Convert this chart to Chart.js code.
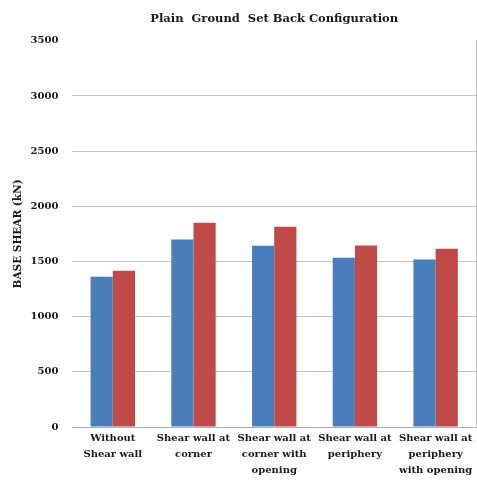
<!DOCTYPE html>
<html>
<head>
<meta charset="utf-8">
<script src="https://cdn.jsdelivr.net/npm/chart.js@4"></script>
<style>
  html, body { margin: 0; padding: 0; background: #ffffff; }
  #wrap { width: 477px; height: 481px; }
</style>
</head>
<body>
<div id="wrap"><canvas id="chart" width="477" height="481"></canvas></div>
<script>
// Base shear per configuration, two analysis series
const categories = [
  ["Without", "Shear wall"],
  ["Shear wall at", "corner"],
  ["Shear wall at", "corner with", "opening"],
  ["Shear wall at", "periphery"],
  ["Shear wall at", "periphery", "with opening"]
];
const seriesBlue = [1362, 1700, 1643, 1534, 1519];
const seriesRed = [1416, 1851, 1814, 1646, 1615];
const yTicks = [0, 500, 1000, 1500, 2000, 2500, 3000, 3500];

const serif = "'DejaVu Serif', 'Liberation Serif', serif";

new Chart(document.getElementById('chart'), {
  type: 'bar',
  data: {
    labels: categories,
    datasets: [
      { label: 'Series 1', data: seriesBlue, backgroundColor: '#4a7ebb', borderWidth: 0 },
      { label: 'Series 2', data: seriesRed, backgroundColor: '#be4b48', borderWidth: 0 }
    ]
  },
  options: {
    responsive: false,
    animation: false,
    layout: { padding: { left: 4, right: 1, top: 8, bottom: 0 } },
    plugins: {
      legend: { display: false },
      tooltip: { enabled: false },
      title: {
        display: true,
        fullSize: false,
        text: 'Plain  Ground  Set Back Configuration',
        color: '#1a1a1a',
        font: { family: serif, size: 11.5, weight: 'bold' },
        padding: { top: 4, bottom: 15 }
      }
    },
    datasets: { bar: { categoryPercentage: 0.55, barPercentage: 1.0 } },
    scales: {
      x: {
        grid: { display: false, drawTicks: false },
        border: { display: true, color: '#b0b0b0' },
        ticks: {
          color: '#1a1a1a',
          font: { family: serif, size: 10, weight: 'bold', lineHeight: 1.6 },
          maxRotation: 0,
          autoSkip: false,
          padding: 3
        }
      },
      y: {
        min: 0,
        max: 3500,
        afterBuildTicks: (axis) => { axis.ticks = yTicks.map(v => ({ value: v })); },
        grid: {
          color: (ctx) => (ctx.tick && ctx.tick.value === 3500 ? 'rgba(0,0,0,0)' : '#c4c4c4'),
          drawTicks: false
        },
        border: { display: false },
        ticks: {
          color: '#1a1a1a',
          font: { family: serif, size: 10, weight: 'bold' },
          padding: 14,
          callback: (v) => String(v)
        },
        title: {
          display: true,
          text: 'BASE SHEAR (kN)',
          color: '#1a1a1a',
          font: { family: serif, size: 10.5, weight: 'bold' },
          padding: { top: 8, bottom: -8 }
        }
      },
      y2: {
        position: 'right',
        min: 0,
        max: 3500,
        grid: { display: false, drawTicks: false },
        border: { display: true, color: '#c4c4c4' },
        ticks: { display: false }
      }
    }
  }
});
</script>
</body>
</html>
